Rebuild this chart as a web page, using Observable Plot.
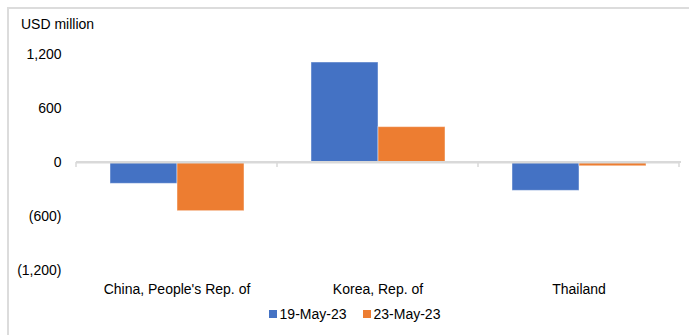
<!DOCTYPE html>
<html>
<head>
<meta charset="utf-8">
<script src="https://cdn.jsdelivr.net/npm/d3@7"></script>
<script src="https://cdn.jsdelivr.net/npm/@observablehq/plot@0.6"></script>
<style>
  html, body { margin: 0; padding: 0; background: #fff; }
  #wrap { position: relative; width: 689px; height: 335px; overflow: hidden; font-family: "Liberation Sans", Arial, sans-serif; }
  #border { position: absolute; left: 7px; top: 7px; width: 700px; height: 400px; border-left: 2px solid #dcdcdc; border-top: 2px solid #dcdcdc; }
  #unit { position: absolute; left: 21px; top: 16px; font-size: 14px; color: #000; }
  #legend { position: absolute; left: 10px; width: 689px; top: 306px; text-align: center; font-size: 14px; color: #000; }
  #legend span.item { margin: 0 8px; }
  #legend span.sw { display: inline-block; width: 8px; height: 8px; margin-right: 3px; vertical-align: 1px; }
  #chart { position: absolute; left: 0; top: 0; }
</style>
</head>
<body>
<div id="wrap">
  <div id="border"></div>
  <div id="chart"></div>
  <div id="unit">USD million</div>
  <div id="legend"></div>
</div>
<script>
const categories = ["China, People's Rep. of", "Korea, Rep. of", "Thailand"];
const seriesNames = ["19-May-23", "23-May-23"];
const values19May = [-237, 1111, -315];
const values23May = [-541, 393, -42];
const yTicks = [-1200, -600, 0, 600, 1200];
const colors = ["#4472C4", "#ED7D31"];

const seriesValues = [values19May, values23May];
const rows = [];
categories.forEach((c, i) => seriesNames.forEach((s, j) => rows.push({category: c, series: s, value: seriesValues[j][i]})));

const fmt = v => v < 0 ? "(" + d3.format(",")(-v) + ")" : d3.format(",")(v);

const plot = Plot.plot({
  width: 689,
  height: 335,
  marginTop: 54,
  marginBottom: 65,
  marginLeft: 76,
  marginRight: 10,
  style: {fontFamily: "'Liberation Sans', Arial, sans-serif", fontSize: "14px", color: "#000", background: "transparent"},
  fx: {domain: categories, paddingInner: 0, paddingOuter: 0, label: null},
  x: {domain: seriesNames, paddingInner: 0, paddingOuter: 0.5, axis: null},
  y: {domain: [-1200, 1200], axis: null},
  color: {domain: seriesNames, range: colors},
  marks: [
    Plot.axisFx({anchor: "bottom", tickSize: 0, tickPadding: 14, label: null, fontSize: 14}),
    Plot.axisY({ticks: yTicks, tickFormat: fmt, tickSize: 0, tickPadding: 15, label: null, fontSize: 14, textAnchor: "end"}),
    Plot.barY(rows, {fx: "category", x: "series", y: "value", fill: "series", stroke: "#ffffff", strokeOpacity: 0.45, strokeWidth: 1}),
    Plot.ruleY([0], {stroke: "#d9d9d9", strokeWidth: 2})
  ]
});
document.getElementById("chart").appendChild(plot);

// category boundary ticks drawn from the plot's own scales
const fx = plot.scale("fx");
const y = plot.scale("y");
const svg = d3.select(plot);
const bounds = categories.map(c => fx.apply(c)).concat([fx.apply(categories[categories.length - 1]) + fx.bandwidth]);
const y0 = y.apply(0);
svg.append("g").selectAll("line").data(bounds).join("line")
  .attr("x1", d => d).attr("x2", d => d)
  .attr("y1", y0).attr("y2", y0 + 5)
  .attr("stroke", "#d9d9d9").attr("stroke-width", 1.5);
svg.append("line").attr("x1", bounds[0]).attr("x2", bounds[bounds.length - 1] + 2)
  .attr("y1", y0).attr("y2", y0).attr("stroke", "#d9d9d9").attr("stroke-width", 2);

const legend = document.getElementById("legend");
legend.innerHTML = seriesNames.map((s, i) =>
  `<span class="item"><span class="sw" style="background:${colors[i]}"></span>${s}</span>`).join("");
</script>
</body>
</html>
